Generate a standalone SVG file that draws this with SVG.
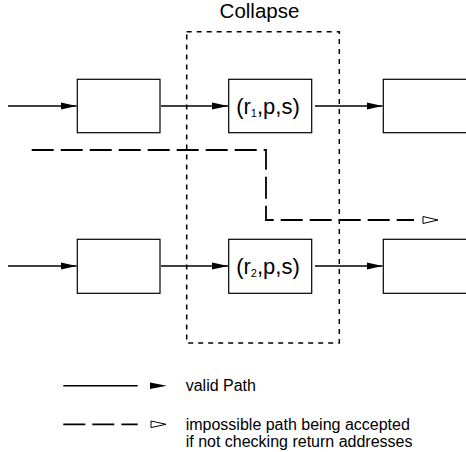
<svg xmlns="http://www.w3.org/2000/svg" width="466" height="452" viewBox="0 0 466 452">
<defs>
<marker id="fa" markerWidth="16" markerHeight="8" refX="16" refY="4" orient="auto" markerUnits="userSpaceOnUse">
<path d="M0,0.5 L16,4 L0,7.5 Z" fill="#000"/>
</marker>
</defs>
<style>
.box{fill:#fff;stroke:#000;stroke-width:1.2}
.sol{fill:none;stroke:#000;stroke-width:1.5}
.dsh{fill:none;stroke:#000;stroke-width:1.8;stroke-dasharray:22 7}
.col{fill:none;stroke:#000;stroke-width:1.5;stroke-dasharray:5 5}
text{font-family:"Liberation Sans",Arial,sans-serif;fill:#000}
.lbl{font-size:22px}
.leg{font-size:16px}
</style>
<rect width="466" height="452" fill="#fff"/>
<g id="collapse">
<rect class="col" x="186.7" y="31.7" width="152.6" height="311.3"/>
<text x="259.5" y="18" font-size="20.5" text-anchor="middle">Collapse</text>
</g>
<g id="a1"><rect class="box" x="77.3" y="79.3" width="82.7" height="53.4"/></g>
<g id="b1"><rect class="box" x="228.7" y="79.3" width="83" height="53.4"/>
<text class="lbl" x="268" y="114" text-anchor="middle">(r<tspan font-size="11" dy="3">1</tspan><tspan dy="-3">,p,s)</tspan></text></g>
<g id="c1"><rect class="box" x="383.3" y="79.3" width="84" height="53.4"/></g>
<g id="a2"><rect class="box" x="77.3" y="239.3" width="82.7" height="54"/></g>
<g id="b2"><rect class="box" x="228.7" y="239.3" width="83" height="54"/>
<text class="lbl" x="268" y="274" text-anchor="middle">(r<tspan font-size="11" dy="3">2</tspan><tspan dy="-3">,p,s)</tspan></text></g>
<g id="c2"><rect class="box" x="383.3" y="239.3" width="84" height="54"/></g>
<g id="connectors">
<line class="sol" x1="8" y1="106" x2="76.5" y2="106" marker-end="url(#fa)"/>
<line class="sol" x1="161" y1="106" x2="228" y2="106" marker-end="url(#fa)"/>
<line class="sol" x1="315" y1="106" x2="382.5" y2="106" marker-end="url(#fa)"/>
<line class="sol" x1="8" y1="266" x2="76.5" y2="266" marker-end="url(#fa)"/>
<line class="sol" x1="161" y1="266" x2="228" y2="266" marker-end="url(#fa)"/>
<line class="sol" x1="315" y1="266" x2="382.5" y2="266" marker-end="url(#fa)"/>
<path class="dsh" d="M31.7,150 H266 V220 H414"/>
<path d="M423,216.5 L438,220 L423,223.5 Z" fill="#fff" stroke="#000" stroke-width="1"/>
</g>
<g id="legend">
<line class="sol" x1="63.3" y1="385.7" x2="137.7" y2="385.7"/>
<path d="M150,382.5 L166.7,385.7 L150,389 Z" fill="#000"/>
<text class="leg" x="185.7" y="391">valid Path</text>
<line class="dsh" x1="63.3" y1="424.3" x2="137.7" y2="424.3" stroke-dasharray="20 7"/>
<path d="M151,421 L166,424.3 L151,427.6 Z" fill="#fff" stroke="#000" stroke-width="1"/>
<text class="leg" x="185.7" y="429.5">impossible path being accepted</text>
<text class="leg" x="185.7" y="447">if not checking return addresses</text>
</g>
</svg>
